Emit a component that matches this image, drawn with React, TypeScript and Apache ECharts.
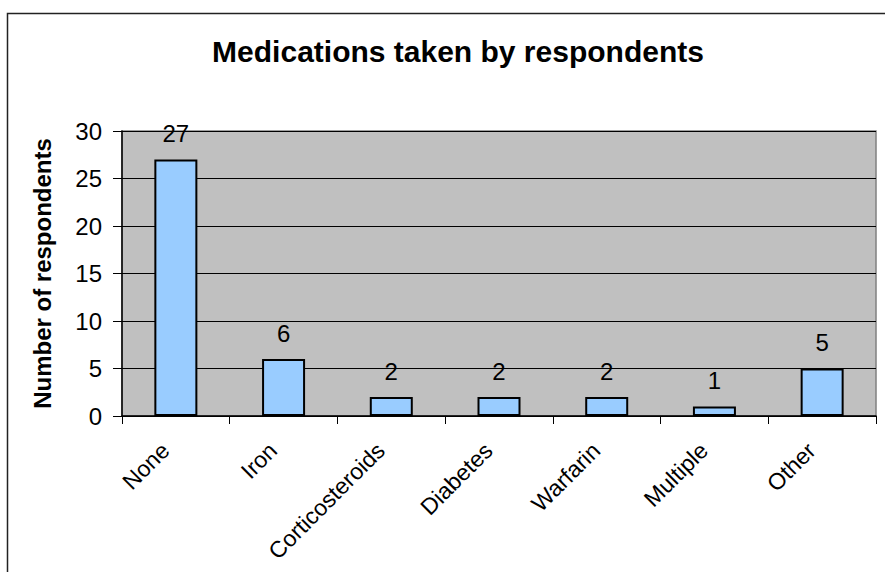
import React, { useEffect, useRef } from "react";
import * as echarts from "echarts";

const categories = ["None", "Iron", "Corticosteroids", "Diabetes", "Warfarin", "Multiple", "Other"];
const respondents = [27, 6, 2, 2, 2, 1, 5];
const yTicks = [0, 5, 10, 15, 20, 25, 30];

const FONT = "'Liberation Sans', Arial, sans-serif";

export default function App() {
  const ref = useRef<HTMLDivElement>(null);
  useEffect(() => {
    if (!ref.current) return;
    const chart = echarts.init(ref.current, undefined, { renderer: "svg" });
    chart.setOption({
      animation: false,
      backgroundColor: "#ffffff",
      title: {
        text: "Medications taken by respondents",
        left: 453,
        top: 31,
        textAlign: "center",
        textStyle: { fontFamily: FONT, fontSize: 30, fontWeight: "bold", color: "#000" },
      },
      graphic: [
        {
          type: "rect",
          shape: { x: 7.5, y: 13.5, width: 900, height: 600 },
          style: { fill: "none", stroke: "#222", lineWidth: 1.5 },
          silent: true,
          z: 100,
        },
      ],
      grid: {
        left: 122,
        right: 9,
        top: 131,
        bottom: 156,
        outerBoundsMode: "none",
        containLabel: false,
        backgroundColor: "#C0C0C0",
        show: true,
        borderColor: "#808080",
        borderWidth: 1.5,
      },
      xAxis: {
        type: "category",
        data: categories,
        axisLine: { show: true, lineStyle: { color: "#000", width: 1.5 } },
        axisTick: { show: true, length: 8, alignWithLabel: false, lineStyle: { color: "#000", width: 1 } },
        axisLabel: { rotate: 45, interval: 0, margin: 20, padding: [0, 15, 0, 0], fontFamily: FONT, fontSize: 23, color: "#000" },
      },
      yAxis: {
        type: "value",
        min: yTicks[0],
        max: yTicks[yTicks.length - 1],
        interval: 5,
        name: "Number of respondents",
        nameLocation: "middle",
        nameRotate: 90,
        nameGap: 68,
        nameTextStyle: { fontFamily: FONT, fontSize: 24, fontWeight: "bold", color: "#000" },
        axisLine: { show: true, lineStyle: { color: "#000", width: 1.5 } },
        axisTick: { show: true, length: 9, lineStyle: { color: "#000", width: 1 } },
        axisLabel: { margin: 20, fontFamily: FONT, fontSize: 24, color: "#000" },
        splitLine: { show: true, lineStyle: { color: "#000", width: 1 } },
      },
      series: [
        {
          type: "bar",
          data: respondents,
          barWidth: 43,
          itemStyle: { color: "#99CCFF", borderColor: "#000", borderWidth: 2 },
          label: { show: true, position: "top", distance: 14, fontFamily: FONT, fontSize: 24, color: "#000" },
        },
      ],
    });
    return () => chart.dispose();
  }, []);
  return <div ref={ref} style={{ position: "fixed", left: 0, top: 0, width: 885, height: 572 }} />;
}
